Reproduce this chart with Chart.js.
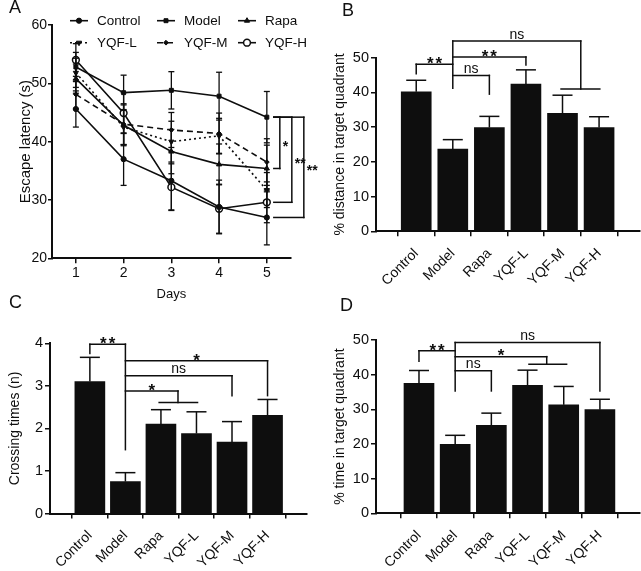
<!DOCTYPE html>
<html>
<head>
<meta charset="utf-8">
<script src="https://cdn.jsdelivr.net/npm/chart.js@4.4.1/dist/chart.umd.min.js"></script>
<style>
  html, body { margin: 0; padding: 0; background: #fff; }
  #page { position: relative; width: 641px; height: 571px; overflow: hidden; }
  #page canvas { position: absolute; }
  .tag { position: absolute; font: 18px "Liberation Sans", Arial, sans-serif; color: #111; line-height: 1; }
</style>
</head>
<body>
<div id="page">
  <canvas id="chart-latency" width="320" height="305" style="left:0;top:0"></canvas>
  <canvas id="chart-distance" width="321" height="290" style="left:320px;top:0"></canvas>
  <canvas id="chart-crossing" width="320" height="271" style="left:0;top:300px"></canvas>
  <canvas id="chart-time" width="321" height="281" style="left:320px;top:290px"></canvas>
  <div class="tag" style="left:9px;top:-2px">A</div>
  <div class="tag" style="left:342px;top:1px">B</div>
  <div class="tag" style="left:9px;top:293px">C</div>
  <div class="tag" style="left:340px;top:296px">D</div>
</div>
<script>
// ---- panel A: escape latency per day (mean, SEM) ----
const days = [1, 2, 3, 4, 5];
const controlLatency = [45.6, 37.0, 33.3, 28.8, 27.0];
const controlLatencySem = [3.1, 4.5, 5.0, 4.6, 4.7];
const modelLatency = [52.8, 48.4, 48.8, 47.8, 44.2];
const modelLatencySem = [2.5, 3.0, 3.2, 4.1, 4.4];
const rapaLatency = [50.8, 42.8, 38.3, 36.1, 35.4];
const rapaLatencySem = [2.5, 3.5, 3.8, 3.5, 4.0];
const yqfLLatency = [51.8, 42.5, 40.0, 41.0, 31.7];
const yqfLLatencySem = [2.5, 3.0, 3.5, 3.0, 3.0];
const yqfMLatency = [48.1, 43.0, 42.0, 41.4, 36.5];
const yqfMLatencySem = [2.5, 3.5, 3.0, 3.5, 4.0];
const yqfHLatency = [54.0, 44.9, 32.2, 28.5, 29.6];
const yqfHLatencySem = [2.8, 3.5, 4.0, 4.2, 3.5];
const latencyTicks = [20, 30, 40, 50, 60];
// day-5 comparisons against Model (dataset indexes)
const latencySig = [
  { a: 1, b: 2, text: "*" },
  { a: 1, b: 5, text: "**" },
  { a: 1, b: 0, text: "**" },
];

// ---- panels B-D: probe trial (mean, SEM) ----
const groups = ["Control", "Model", "Rapa", "YQF-L", "YQF-M", "YQF-H"];

const distanceMean = [40.2, 23.7, 29.9, 42.4, 34.0, 29.9];
const distanceSem = [3.3, 2.7, 3.2, 4.1, 5.2, 3.1];
const distanceHub = [1, 41.2, 54.8];
const distanceSig = [
  { a: 0, b: 1, y: 48.1, dropA: 45.4, text: "**" },
  { a: 1, b: 2, y: 44.9, dropB: 39.5, text: "ns" },
  { a: 1, b: 3, y: 50.2, dropB: 47.9, text: "**" },
  { a: 1, b: 4.5, y: 54.8, dropB: 41.0, group: [3.96, 5.02], text: "ns" },
];

const crossingMean = [3.10, 0.75, 2.10, 1.88, 1.68, 2.31];
const crossingSem = [0.57, 0.21, 0.34, 0.51, 0.48, 0.37];
const crossingHub = [1, 1.5, 3.98];
const crossingSig = [
  { a: 0, b: 1, y: 3.98, dropA: 3.76, text: "**" },
  { a: 1, b: 5, y: 3.59, dropB: 2.77, text: "*" },
  { a: 1, b: 4, y: 3.24, dropB: 2.77, text: "ns" },
  { a: 1, b: 2.48, y: 2.88, dropB: 2.61, group: [1.95, 3.03], text: "*" },
];

const timeMean = [37.5, 19.9, 25.4, 36.9, 31.3, 29.9];
const timeSem = [3.7, 2.6, 3.5, 4.4, 5.3, 3.0];
const timeHub = [1, 35.3, 49.3];
const timeSig = [
  { a: 0, b: 1, y: 46.9, dropA: 43.9, text: "**" },
  { a: 1, b: 5, y: 49.3, dropB: 35.3, text: "ns" },
  { a: 1, b: 3.53, y: 45.2, dropB: 43.0, group: [3.04, 4.08], text: "*" },
  { a: 1, b: 2, y: 41.1, dropB: 35.3, text: "ns" },
];

const INK = "#0e0e0e";
const FONT = '"Liberation Sans", Arial, sans-serif';

Chart.defaults.font.family = FONT;
Chart.defaults.color = INK;
Chart.defaults.animation = false;

function strokeLine(ctx, x1, y1, x2, y2) {
  ctx.beginPath();
  ctx.moveTo(x1, y1);
  ctx.lineTo(x2, y2);
  ctx.stroke();
}

// star marks sit on the bracket line, "ns" sits just above it
function drawMark(ctx, text, x, y, starSize) {
  ctx.save();
  ctx.fillStyle = INK;
  ctx.textAlign = "center";
  ctx.textBaseline = "alphabetic";
  if (text[0] === "*") {
    ctx.font = `bold ${starSize}px ${FONT}`;
    ctx.letterSpacing = "2px";
    ctx.fillText(text, x + 1, y + starSize * 0.28);
  } else {
    ctx.font = `14px ${FONT}`;
    ctx.fillText(text, x, y - 2.5);
  }
  ctx.restore();
}

const errorBars = {
  id: "errorBars",
  afterDatasetsDraw(chart, args, opts) {
    const { ctx } = chart;
    const y = chart.scales.y;
    ctx.save();
    ctx.strokeStyle = INK;
    ctx.lineWidth = opts.lineWidth || 1.5;
    chart.data.datasets.forEach((ds, i) => {
      if (!ds.errors) return;
      chart.getDatasetMeta(i).data.forEach((el, j) => {
        const raw = ds.data[j];
        const v = typeof raw === "object" ? raw.y : raw;
        const top = y.getPixelForValue(v + ds.errors[j]);
        const bottom = opts.both ? y.getPixelForValue(v - ds.errors[j]) : el.y;
        strokeLine(ctx, el.x, top, el.x, bottom);
        strokeLine(ctx, el.x - opts.cap, top, el.x + opts.cap, top);
        if (opts.both) strokeLine(ctx, el.x - opts.cap, bottom, el.x + opts.cap, bottom);
      });
    });
    ctx.restore();
  },
};

const sigBrackets = {
  id: "sigBrackets",
  afterDatasetsDraw(chart, args, opts) {
    if (!opts.items) return;
    const { ctx } = chart;
    const { x, y } = chart.scales;
    ctx.save();
    ctx.strokeStyle = INK;
    ctx.lineWidth = 1.5;
    ctx.lineCap = "square";
    if (opts.hub) {
      const hx = x.getPixelForValue(opts.hub[0]);
      strokeLine(ctx, hx, y.getPixelForValue(opts.hub[1]), hx, y.getPixelForValue(opts.hub[2]));
    }
    opts.items.forEach((b) => {
      const xa = x.getPixelForValue(b.a);
      const xb = x.getPixelForValue(b.b);
      const yy = y.getPixelForValue(b.y);
      strokeLine(ctx, xa, yy, xb, yy);
      if (b.dropA != null) strokeLine(ctx, xa, yy, xa, y.getPixelForValue(b.dropA));
      if (b.dropB != null) strokeLine(ctx, xb, yy, xb, y.getPixelForValue(b.dropB));
      if (b.group) {
        const gy = y.getPixelForValue(b.dropB);
        strokeLine(ctx, x.getPixelForValue(b.group[0]), gy, x.getPixelForValue(b.group[1]), gy);
      }
      drawMark(ctx, b.text, (xa + xb) / 2, yy, 17);
    });
    ctx.restore();
  },
};

// day-5 brackets to the right of panel A
const latencyBrackets = {
  id: "latencyBrackets",
  afterDatasetsDraw(chart) {
    const { ctx } = chart;
    const { x, y } = chart.scales;
    const x5 = x.getPixelForValue(days[days.length - 1]);
    const last = (i) => y.getPixelForValue(chart.data.datasets[i].data[days.length - 1].y);
    ctx.save();
    ctx.strokeStyle = INK;
    ctx.lineWidth = 1.5;
    ctx.lineCap = "square";
    latencySig.forEach((s, k) => {
      const vx = x5 + 13 + 12 * k;
      const ya = last(s.a);
      const yb = last(s.b);
      strokeLine(ctx, x5 + 7, ya, vx, ya);
      strokeLine(ctx, x5 + 7, yb, vx, yb);
      strokeLine(ctx, vx, ya, vx, yb);
      ctx.fillStyle = INK;
      ctx.font = `bold 14px ${FONT}`;
      ctx.textAlign = "left";
      ctx.textBaseline = "alphabetic";
      ctx.fillText(s.text, vx + 3, (ya + yb) / 2 + 8);
    });
    ctx.restore();
  },
};

const latencyLegend = {
  id: "latencyLegend",
  afterDraw(chart) {
    const { ctx } = chart;
    const colX = [70, 157, 238];
    const rowY = [20.7, 42.7];
    chart.data.datasets.forEach((ds, i) => {
      const x0 = colX[i % 3];
      const y0 = rowY[Math.floor(i / 3)];
      ctx.save();
      ctx.strokeStyle = INK;
      ctx.lineWidth = ds.borderWidth;
      ctx.setLineDash(ds.borderDash || []);
      strokeLine(ctx, x0, y0, x0 + 18, y0);
      ctx.setLineDash([]);
      ctx.fillStyle = ds.pointBackgroundColor;
      ctx.lineWidth = ds.pointBorderWidth;
      Chart.helpers.drawPoint(ctx, {
        pointStyle: ds.pointStyle,
        rotation: ds.pointRotation || 0,
        radius: ds.pointRadius,
        borderWidth: ds.pointBorderWidth,
      }, x0 + 9, y0);
      ctx.fillStyle = INK;
      ctx.font = `13.5px ${FONT}`;
      ctx.textAlign = "left";
      ctx.textBaseline = "middle";
      ctx.fillText(ds.label, x0 + 27, y0 + 0.5);
      ctx.restore();
    });
  },
};

function latencySeries(label, values, sem, style) {
  return Object.assign({
    label,
    data: days.map((d, i) => ({ x: d, y: values[i] })),
    errors: sem,
    borderColor: INK,
    borderWidth: 1.6,
    pointBackgroundColor: INK,
    pointBorderColor: INK,
    pointBorderWidth: 1,
    pointRadius: 2.6,
    tension: 0,
  }, style);
}

new Chart(document.getElementById("chart-latency"), {
  type: "line",
  data: {
    datasets: [
      latencySeries("Control", controlLatency, controlLatencySem, { pointStyle: "circle" }),
      latencySeries("Model", modelLatency, modelLatencySem, { pointStyle: "rect", pointRadius: 2.8 }),
      latencySeries("Rapa", rapaLatency, rapaLatencySem, { pointStyle: "triangle", pointRadius: 3 }),
      latencySeries("YQF-L", yqfLLatency, yqfLLatencySem, { pointStyle: "triangle", pointRotation: 180, pointRadius: 3, borderDash: [2, 3] }),
      latencySeries("YQF-M", yqfMLatency, yqfMLatencySem, { pointStyle: "rectRot", pointRadius: 2.4, borderDash: [6, 4] }),
      latencySeries("YQF-H", yqfHLatency, yqfHLatencySem, { pointStyle: "circle", pointRadius: 3.4, pointBackgroundColor: "#fff", pointBorderWidth: 1.5 }),
    ],
  },
  options: {
    responsive: false,
    devicePixelRatio: 1,
    layout: { autoPadding: false, padding: { left: 13, top: 25, right: 29.3, bottom: 0 } },
    plugins: {
      legend: { display: false },
      tooltip: { enabled: false },
      errorBars: { both: true, cap: 3, lineWidth: 1.3 },
    },
    scales: {
      x: {
        type: "linear",
        min: 0.5,
        max: 5.5,
        afterBuildTicks: (s) => { s.ticks = days.map((d) => ({ value: d })); },
        afterFit: (s) => { s.height = 46.7; },
        border: { color: INK, width: 2 },
        grid: { drawOnChartArea: false, color: INK, lineWidth: 1.5, tickLength: 5 },
        ticks: { font: { size: 14 }, padding: 1, color: INK },
        title: { display: true, text: "Days", font: { size: 13 }, padding: { top: 0, bottom: 3 }, color: INK },
      },
      y: {
        min: 20,
        max: 60,
        afterBuildTicks: (s) => { s.ticks = latencyTicks.map((v) => ({ value: v })); },
        afterFit: (s) => { s.width = 39; },
        border: { color: INK, width: 2 },
        grid: { drawOnChartArea: false, color: INK, lineWidth: 1.5, tickLength: 4 },
        ticks: { font: { size: 14 }, padding: 1, color: INK },
        title: { display: true, text: "Escape latency (s)", font: { size: 15 }, padding: { top: 4, bottom: 0 }, color: INK },
      },
    },
  },
  plugins: [errorBars, latencyBrackets, latencyLegend],
});

function probeChart(canvasId, cfg) {
  return new Chart(document.getElementById(canvasId), {
    type: "bar",
    data: {
      datasets: [{
        data: cfg.mean.map((v, i) => ({ x: i, y: v })),
        errors: cfg.sem,
        backgroundColor: INK,
        borderWidth: 0,
        barThickness: 30,
      }],
    },
    options: {
      responsive: false,
      devicePixelRatio: 1,
      layout: { autoPadding: false, padding: cfg.padding },
      plugins: {
        legend: { display: false },
        tooltip: { enabled: false },
        errorBars: { both: false, cap: 10, lineWidth: 1.5 },
        sigBrackets: { hub: cfg.hub, items: cfg.sig },
      },
      scales: {
        x: {
          type: "linear",
          min: cfg.xMin,
          max: 5.5,
          afterBuildTicks: (s) => { s.ticks = groups.map((g, i) => ({ value: i })); },
          afterFit: (s) => { s.height = cfg.xHeight; },
          border: { color: INK, width: 2 },
          grid: { drawOnChartArea: false, color: INK, lineWidth: 1.5, tickLength: 5 },
          ticks: {
            font: { size: 14 }, color: INK, padding: 9,
            minRotation: 45, maxRotation: 45, autoSkip: false,
            callback: (v) => groups[v] ?? "",
          },
        },
        y: {
          min: 0,
          max: cfg.yMax,
          afterBuildTicks: (s) => { s.ticks = cfg.yTicks.map((v) => ({ value: v })); },
          afterFit: (s) => { s.width = cfg.yWidth; },
          border: { color: INK, width: 2 },
          grid: { drawOnChartArea: false, color: INK, lineWidth: 1.5, tickLength: 5 },
          ticks: { font: { size: 14.5 }, padding: 2, color: INK },
          title: { display: true, text: cfg.yTitle, font: { size: 14 }, padding: { top: 4, bottom: 0 }, color: INK },
        },
      },
    },
    plugins: [errorBars, sigBrackets],
  });
}

probeChart("chart-distance", {
  mean: distanceMean, sem: distanceSem, hub: distanceHub, sig: distanceSig,
  yMax: 50, yTicks: [0, 10, 20, 30, 40, 50], yTitle: "% distance in target quadrant",
  xMin: -0.5, xHeight: 58.7, yWidth: 48.4,
  padding: { left: 7.6, top: 57.7, right: 1.7, bottom: 0 },
});

probeChart("chart-crossing", {
  mean: crossingMean, sem: crossingSem, hub: crossingHub, sig: crossingSig,
  yMax: 4, yTicks: [0, 1, 2, 3, 4], yTitle: "Crossing times (n)",
  xMin: -0.52, xHeight: 57.5, yWidth: 47.4,
  padding: { left: 2.6, top: 43.3, right: 13.3, bottom: 0 },
});

probeChart("chart-time", {
  mean: timeMean, sem: timeSem, hub: timeHub, sig: timeSig,
  yMax: 50, yTicks: [0, 10, 20, 30, 40, 50], yTitle: "% time in target quadrant",
  xMin: -0.58, xHeight: 57.7, yWidth: 48.4,
  padding: { left: 7.6, top: 50, right: 1, bottom: 0 },
});
</script>
</body>
</html>
